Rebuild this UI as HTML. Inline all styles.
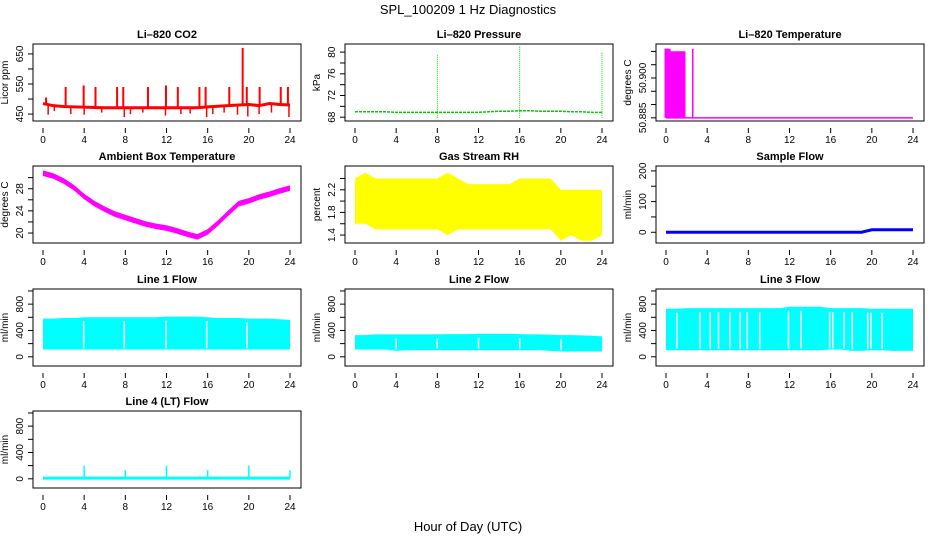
<!DOCTYPE html>
<html><head><meta charset="utf-8"><style>
html,body{margin:0;padding:0;background:#fff}
svg{display:block;font-family:"Liberation Sans",sans-serif}
</style></head><body>
<svg id="chart" width="936" height="540" viewBox="0 0 936 540" xmlns="http://www.w3.org/2000/svg">
<text x="468" y="14" font-size="13" text-anchor="middle">SPL_100209  1 Hz Diagnostics</text>
<text x="468" y="531" font-size="13" text-anchor="middle">Hour of Day (UTC)</text>
</svg>
<script>
const xTicks = [0,4,8,12,16,20,24];
const hours = [0,1,2,3,4,5,6,7,8,9,10,11,12,13,14,15,16,17,18,19,20,21,22,23,24];
const co2Base = [485,478,475,474,473,472,471,471,471,471,471,471,471,471,471,471,474,476,478,480,482,478,485,482,480];
const co2SpikeT = [0.3,2.2,3.95,5.1,7.2,7.8,10.2,11.95,13.1,15.2,15.8,18.1,19.4,19.8,21.05,23.1,23.8];
const co2SpikeV = [505,540,545,540,540,540,540,545,540,540,540,540,670,540,540,540,540];
const co2DipT = [0.5,1.1,2.7,4,5.7,7.9,8.5,9.7,11.9,13.4,14.3,15.9,16.5,17.6,18.9,19.9,21,22.2,23.9];
const co2DipV = [448,460,450,448,455,440,450,455,445,450,452,440,450,455,448,442,450,455,440];
const presBase = [69.0,69.0,69.0,69.0,68.9,68.9,68.9,68.9,68.9,68.9,68.9,68.9,68.9,69.0,69.1,69.1,69.2,69.2,69.1,69.1,69.1,69.0,69.0,68.9,68.9];
const presSpikeT = [8,16,24];
const presSpikeV = [79.5,81.2,80.1];
const tempSpikeT = [0.05,0.15,0.25,0.35,0.5,0.65,0.8,1.0,1.1,1.2,1.3,1.5,1.6,1.7,2.6];
const tempSpikeV = [50.911,50.911,50.911,50.910,50.910,50.910,50.910,50.910,50.910,50.910,50.910,50.910,50.910,50.910,50.911];
const ambient = [30.8,30.3,29.4,28.2,26.6,25.3,24.3,23.4,22.8,22.2,21.6,21.2,20.9,20.4,19.8,19.3,20.2,21.8,23.6,25.3,25.8,26.5,27.0,27.6,28.1];
const rhMax = [2.4,2.5,2.4,2.4,2.4,2.4,2.4,2.4,2.4,2.5,2.4,2.3,2.3,2.3,2.3,2.3,2.4,2.4,2.4,2.4,2.2,2.2,2.2,2.2,2.2];
const rhMin = [1.6,1.6,1.5,1.5,1.5,1.5,1.5,1.5,1.5,1.4,1.5,1.5,1.5,1.5,1.5,1.5,1.5,1.5,1.5,1.5,1.3,1.4,1.3,1.3,1.4];
const sampleFlow = [0,0,0,0,0,0,0,0,0,0,0,0,0,0,0,0,0,0,0,0,8,8,8,8,8];
const line1Max = [580,580,590,590,600,600,600,600,600,600,600,600,610,610,610,610,600,590,590,590,580,580,580,570,560];
const line1Min = [110,110,110,110,110,110,110,110,110,110,110,110,110,110,110,110,110,110,110,110,110,110,110,110,110];
const line2Max = [330,330,340,340,340,340,340,340,340,345,345,345,350,350,350,350,345,340,340,335,330,330,325,320,310];
const line2Min = [110,110,110,110,90,100,100,100,100,100,100,100,100,100,100,100,100,100,100,90,80,80,80,80,80];
const line3Max = [730,730,740,740,740,740,740,740,740,740,740,740,760,760,760,760,740,740,740,740,730,730,730,730,730];
const line3Min = [100,100,100,100,100,100,100,100,100,100,100,100,100,100,100,100,110,110,90,90,100,100,90,90,90];
const line3Gaps = [1.05,3.3,4.3,5.1,6.2,7.2,7.9,9.1,11.9,13.1,15.9,16.2,17.3,18.1,19.6,19.9,21.0];
const line1Gaps = [3.95,7.9,11.95,15.9,19.8];
const line2Gaps = [4.0,8.0,12.0,16.0,20.0];
const line4SpikeT = [4,8,12,16,20,24];
const line4SpikeV = [200,130,200,130,200,130];

const svg = document.getElementById('chart');
const NS = 'http://www.w3.org/2000/svg';
function mk(tag, attrs, parent){const e=document.createElementNS(NS,tag);for(const k in attrs)e.setAttribute(k,attrs[k]);(parent||svg).appendChild(e);return e;}

const colX=[33,345,656], rowY=[44,166,289,411], W=268, H=77;
const flowTicks=[0,200,400,600,800,1000], flowLabels=['0','','400','','800',''];
const panels=[
 {id:'co2',c:0,r:0,title:'Li\u2013820 CO2',ylab:'Licor ppm',ymin:427,ymax:683,ticks:[450,500,550,600,650],labels:['450','','550','','650']},
 {id:'pressure',c:1,r:0,title:'Li\u2013820 Pressure',ylab:'kPa',ymin:67.3,ymax:81.5,ticks:[68,70,72,74,76,78,80],labels:['68','','72','','76','','80']},
 {id:'temperature',c:2,r:0,title:'Li\u2013820 Temperature',ylab:'degrees C',ymin:50.8838,ymax:50.9128,ticks:[50.885,50.89,50.895,50.9,50.905,50.91],labels:['50.885','','','50.900','','']},
 {id:'ambient',c:0,r:1,title:'Ambient Box Temperature',ylab:'degrees C',ymin:18.2,ymax:32.1,ticks:[20,22,24,26,28,30],labels:['20','','24','','28','']},
 {id:'rh',c:1,r:1,title:'Gas Stream RH',ylab:'percent',ymin:1.26,ymax:2.62,ticks:[1.4,1.6,1.8,2.0,2.2,2.4],labels:['1.4','','1.8','','2.2','']},
 {id:'sample',c:2,r:1,title:'Sample Flow',ylab:'ml/min',ymin:-35,ymax:216,ticks:[0,50,100,150,200],labels:['0','','100','','200']},
 {id:'line1',c:0,r:2,title:'Line 1 Flow',ylab:'ml/min',ymin:-140,ymax:1030,ticks:flowTicks,labels:flowLabels},
 {id:'line2',c:1,r:2,title:'Line 2 Flow',ylab:'ml/min',ymin:-140,ymax:1030,ticks:flowTicks,labels:flowLabels},
 {id:'line3',c:2,r:2,title:'Line 3 Flow',ylab:'ml/min',ymin:-140,ymax:1030,ticks:flowTicks,labels:flowLabels},
 {id:'line4',c:0,r:3,title:'Line 4 (LT) Flow',ylab:'ml/min',ymin:-140,ymax:1030,ticks:flowTicks,labels:flowLabels}
];
const P={};
panels.forEach(p=>{
 const L=colX[p.c], T=rowY[p.r];
 const g=mk('g',{});
 
 
 p.g=g;
 p.x=v=>L+10+(v/24)*247;
 p.y=v=>T+H-(v-p.ymin)/(p.ymax-p.ymin)*H;
 const t=mk('text',{x:L+W/2,y:T-6,'font-size':11,'font-weight':'bold','text-anchor':'middle'},g);
 t.textContent=p.title;
 
 
 const yl=mk('text',{transform:`translate(${L-25},${T+H/2}) rotate(-90)`,'font-size':10,'text-anchor':'middle'},g);
 yl.textContent=p.ylab;
 
 
 xTicks.forEach(v=>{
  const x=p.x(v);
  mk('line',{x1:x,x2:x,y1:T+H+7,y2:T+H+12,stroke:'#000'},g);
  const tl=mk('text',{x:x,y:T+H+22,'font-size':10,'text-anchor':'middle'},g);
  tl.textContent=v;
  
  
 });
 p.ticks.forEach((v,i)=>{
  const y=p.y(v);
  mk('line',{x1:L-5,x2:L,y1:y,y2:y,stroke:'#000'},g);
  if(p.labels[i]){
   const tl=mk('text',{transform:`translate(${L-10},${y}) rotate(-90)`,'font-size':10,'text-anchor':'middle'},g);
   tl.textContent=p.labels[i];
   
   
  }
 });
 p.data=mk('g',{},g);
 
 
 p.box=[L,T];
 P[p.id]=p;
});
function poly(p,xs,ys,opts){mk('polyline',Object.assign({points:xs.map((x,i)=>p.x(x)+','+p.y(ys[i])).join(' '),fill:'none'},opts),p.data);}
function band(p,xs,hi,lo,col){
 const pts=xs.map((x,i)=>p.x(x)+','+p.y(hi[i])).concat(xs.slice().reverse().map((x,j)=>{const i=xs.length-1-j;return p.x(x)+','+p.y(lo[i]);}));
 mk('polygon',{points:pts.join(' '),fill:col},p.data);
}
function vline(p,t,v0,v1,col,w,dash){const a={x1:p.x(t),x2:p.x(t),y1:p.y(v0),y2:p.y(v1),stroke:col,'stroke-width':w||1.5};if(dash)a['stroke-dasharray']=dash;mk('line',a,p.data);}
function interp(arr,t){const i=Math.min(23,Math.floor(t));const f=t-i;return arr[i]*(1-f)+arr[i+1]*f;}

let p=P.co2;
poly(p,hours,co2Base,{stroke:'#f00','stroke-width':3});
co2SpikeT.forEach((t,i)=>vline(p,t,interp(co2Base,t),co2SpikeV[i],'#f00',2));
co2DipT.forEach((t,i)=>vline(p,t,interp(co2Base,t),co2DipV[i],'#f00',1.5));
p=P.pressure;
poly(p,hours,presBase,{stroke:'#0c0','stroke-width':1.5,'stroke-dasharray':'3,1'});
presSpikeT.forEach((t,i)=>vline(p,t,67.9,presSpikeV[i],'#0c0',1,'1,1'));
p=P.temperature;
poly(p,[0,24],[50.885,50.885],{stroke:'#f0f','stroke-width':1.5});
tempSpikeT.forEach((t,i)=>vline(p,t,50.885,tempSpikeV[i],'#f0f',t<2?4:1.5));
p=P.ambient;
band(p,hours,ambient.map(v=>v+0.5),ambient.map(v=>v-0.5),'#f0f');
p=P.rh;
band(p,hours,rhMax,rhMin,'#ff0');
p=P.sample;
poly(p,hours,sampleFlow,{stroke:'#00f','stroke-width':3});
function flow(p,hi,lo,gaps){band(p,hours,hi,lo,'#0ff');(gaps||[]).forEach(t=>vline(p,t,interp(lo,t)+20,interp(hi,t)-60,'#fff',1.5));}
flow(P.line1,line1Max,line1Min,line1Gaps);
flow(P.line2,line2Max,line2Min,line2Gaps);
flow(P.line3,line3Max,line3Min,line3Gaps);
p=P.line4;
poly(p,[0,24],[10,10],{stroke:'#0ff','stroke-width':3});
line4SpikeT.forEach((t,i)=>vline(p,t,10,line4SpikeV[i],'#0ff',1.5));
panels.forEach(p=>{const r=mk('rect',{x:p.box[0],y:p.box[1],width:W,height:H,fill:'none',stroke:'#000'},p.g);
});
</script>
</body></html>
